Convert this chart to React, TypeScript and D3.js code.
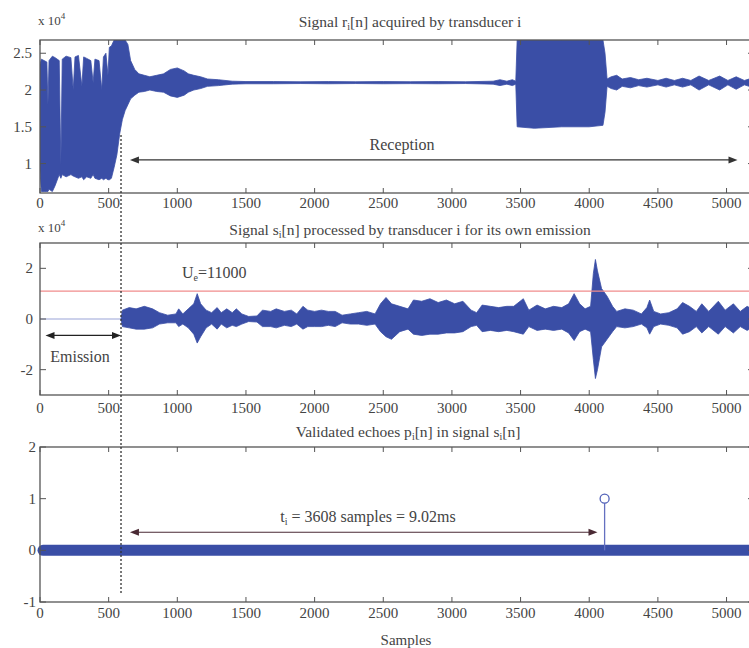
import React from 'react';
import * as d3 from 'd3';

// x axis: sample index
const xTicks = [0, 500, 1000, 1500, 2000, 2500, 3000, 3500, 4000, 4500, 5000];

// panel 1: envelope of r_i[n] (x10^4)
const rSamples = [0, 10, 30, 50, 58, 66, 90, 110, 140, 152, 162, 190, 225, 242, 255, 280, 305, 318, 340, 370, 387, 400, 430, 450, 462, 480, 495, 505, 520, 540, 560, 580, 600, 620, 640, 660, 690, 720, 760, 800, 850, 900, 950, 1000, 1050, 1080, 1120, 1170, 1220, 1300, 1400, 1500, 1700, 1900, 2100, 2300, 2500, 2700, 2900, 3100, 3300, 3350, 3400, 3440, 3465, 3475, 3600, 3800, 4000, 4100, 4115, 4130, 4160, 4200, 4240, 4300, 4360, 4420, 4500, 4560, 4620, 4680, 4740, 4800, 4870, 4950, 5010, 5070, 5130, 5200];
const rHigh = [2.35, 2.42, 2.4, 2.38, 1.8, 2.4, 2.46, 2.44, 2.4, 0.98, 2.42, 2.46, 2.44, 2.0, 2.45, 2.47, 2.05, 2.45, 2.43, 2.4, 2.1, 2.42, 2.4, 2.0, 2.45, 2.5, 2.2, 2.58, 2.6, 2.68, 2.68, 2.68, 2.68, 2.68, 2.62, 2.4, 2.28, 2.22, 2.2, 2.18, 2.2, 2.22, 2.28, 2.3, 2.26, 2.22, 2.2, 2.18, 2.15, 2.14, 2.12, 2.115, 2.115, 2.112, 2.115, 2.112, 2.115, 2.113, 2.115, 2.112, 2.12, 2.14, 2.12, 2.14, 2.12, 2.68, 2.68, 2.68, 2.68, 2.68, 2.5, 2.15, 2.18, 2.2, 2.15, 2.17, 2.14, 2.16, 2.13, 2.16, 2.13, 2.16, 2.13, 2.19, 2.13, 2.19, 2.13, 2.18, 2.13, 2.17];
const rLow = [0.9, 0.62, 0.62, 0.62, 0.62, 0.65, 0.62, 0.7, 0.85, 0.8, 0.85, 0.82, 0.85, 0.83, 0.82, 0.8, 0.82, 0.78, 0.82, 0.8, 0.85, 0.8, 0.78, 0.8, 0.78, 0.8, 0.78, 0.78, 0.8, 0.95, 1.12, 1.4, 1.6, 1.72, 1.8, 1.88, 1.93, 1.97, 1.98, 2.0, 1.98, 1.97, 1.92, 1.9, 1.93, 1.97, 2.0, 2.02, 2.05, 2.06, 2.08, 2.085, 2.085, 2.088, 2.085, 2.088, 2.085, 2.087, 2.085, 2.088, 2.08, 2.06, 2.08, 2.06, 2.08, 1.5, 1.48, 1.5, 1.5, 1.52, 1.7, 2.05, 2.02, 2.0, 2.05, 2.03, 2.06, 2.04, 2.07, 2.04, 2.07, 2.04, 2.07, 2.0, 2.07, 2.0, 2.07, 2.01, 2.07, 2.03];
const rYTicks = [1, 1.5, 2, 2.5];
const rYLabels = ['1', '1.5', '2', '2.5'];

// panel 2: envelope of s_i[n] (x10^4)
const sSamples = [590, 600, 650, 700, 760, 820, 870, 930, 990, 1010, 1040, 1080, 1120, 1145, 1170, 1210, 1250, 1290, 1320, 1360, 1400, 1430, 1470, 1520, 1580, 1620, 1680, 1720, 1780, 1830, 1870, 1915, 1950, 2000, 2050, 2100, 2150, 2200, 2260, 2320, 2380, 2440, 2480, 2520, 2560, 2620, 2680, 2720, 2780, 2840, 2900, 2960, 3020, 3080, 3140, 3180, 3220, 3280, 3340, 3400, 3450, 3520, 3560, 3620, 3680, 3740, 3800, 3850, 3890, 3930, 3970, 4010, 4030, 4045, 4060, 4090, 4130, 4170, 4200, 4260, 4320, 4380, 4420, 4440, 4470, 4520, 4580, 4640, 4680, 4730, 4780, 4820, 4870, 4940, 4990, 5050, 5100, 5150, 5200];
const sHigh = [0, 0.35, 0.45, 0.4, 0.5, 0.4, 0.25, 0.15, 0.2, 0.4, 0.2, 0.4, 0.6, 1.0, 0.6, 0.35, 0.25, 0.45, 0.25, 0.4, 0.25, 0.4, 0.2, 0.1, 0.12, 0.35, 0.3, 0.4, 0.3, 0.35, 0.2, 0.5, 0.35, 0.3, 0.35, 0.3, 0.3, 0.15, 0.2, 0.25, 0.3, 0.2, 0.6, 0.85, 0.6, 0.5, 0.4, 0.75, 0.7, 0.8, 0.65, 0.75, 0.6, 0.7, 0.35, 0.25, 0.55, 0.5, 0.45, 0.5, 0.5, 0.8, 0.35, 0.55, 0.4, 0.5, 0.45, 0.6, 1.0, 0.6, 0.4, 0.5, 1.8, 2.35, 1.9, 1.2, 0.9, 0.5, 0.3, 0.4, 0.35, 0.2, 0.45, 0.75, 0.3, 0.2, 0.25, 0.4, 0.65, 0.5, 0.3, 0.6, 0.3, 0.7, 0.35, 0.6, 0.3, 0.5, 0.35];
const sLow = [0, -0.3, -0.35, -0.4, -0.4, -0.35, -0.2, -0.15, -0.15, -0.3, -0.2, -0.35, -0.6, -0.95, -0.7, -0.35, -0.2, -0.4, -0.2, -0.35, -0.25, -0.3, -0.2, -0.1, -0.12, -0.3, -0.3, -0.35, -0.25, -0.3, -0.2, -0.4, -0.3, -0.3, -0.3, -0.25, -0.3, -0.15, -0.2, -0.2, -0.25, -0.2, -0.5, -0.7, -0.8, -0.5, -0.4, -0.6, -0.65, -0.6, -0.6, -0.55, -0.55, -0.5, -0.3, -0.25, -0.5, -0.45, -0.5, -0.45, -0.5, -0.6, -0.3, -0.45, -0.4, -0.45, -0.4, -0.55, -0.85, -0.5, -0.4, -0.5, -1.6, -2.35, -2.0, -1.1, -0.8, -0.5, -0.3, -0.35, -0.3, -0.2, -0.35, -0.6, -0.3, -0.2, -0.25, -0.35, -0.6, -0.5, -0.3, -0.55, -0.3, -0.6, -0.3, -0.55, -0.3, -0.45, -0.3];
const sYTicks = [-2, 0, 2];
const threshold = 1.1; // U_e = 11000
const emissionEnd = 590;

// panel 3: validated echo
const echoSample = 4112;
const echoValue = 1;
const pYTicks = [-1, 0, 1, 2];

// annotations (sample positions / values)
const receptionArrow = [655, 5080, 1.05];
const emissionArrow = [40, 590, -0.65];
const tofArrow = [655, 4060, 0.35];

const BLUE = '#3a4ea6';
const AXIS = '#555';
const TXT = '#444';
const FONT = '"Liberation Serif", "DejaVu Serif", serif';

const x = d3.scaleLinear().domain([0, 5200]).range([40, 754]);
const yTop = d3.scaleLinear().domain([0.6, 2.68]).range([193, 40]);
const yMid = d3.scaleLinear().domain([-3, 3]).range([395, 243]);
const yBot = d3.scaleLinear().domain([-1, 2]).range([602, 447]);

const Frame = ({ y, yTicks, yLabels, labelY, labelX }) => {
  const [b, t] = y.range();
  return (
    <g>
      <rect x={40} y={t} width={714} height={b - t} fill="none" stroke={AXIS} strokeWidth={1.3} />
      {xTicks.map(v => (
        <g key={v}>
          <line x1={x(v)} x2={x(v)} y1={b} y2={b - 5} stroke={AXIS} />
          <line x1={x(v)} x2={x(v)} y1={t} y2={t + 5} stroke={AXIS} />
          <text x={x(v)} y={labelY} textAnchor="middle" fontSize={15} fill={TXT}>{v}</text>
        </g>
      ))}
      {yTicks.map((v, i) => (
        <g key={v}>
          <line x1={40} x2={46} y1={y(v)} y2={y(v)} stroke={AXIS} />
          <line x1={754} x2={748} y1={y(v)} y2={y(v)} stroke={AXIS} />
          <text x={labelX} y={y(v) + 5} textAnchor="end" fontSize={15} fill={TXT}>{yLabels ? yLabels[i] : v}</text>
        </g>
      ))}
    </g>
  );
};

const Arrow = ({ x1, x2, y, color }) => (
  <g>
    <line x1={x1 + 6} x2={x2 - 6} y1={y} y2={y} stroke={color} strokeWidth={1.2} />
    <path d={`M${x1},${y}L${x1 + 9},${y - 3.5}L${x1 + 9},${y + 3.5}Z`} fill={color} />
    <path d={`M${x2},${y}L${x2 - 9},${y - 3.5}L${x2 - 9},${y + 3.5}Z`} fill={color} />
  </g>
);

export default function App() {
  const rArea = d3.area<number>()
    .x((d, i) => x(rSamples[i]))
    .y0((d, i) => yTop(rLow[i]))
    .y1((d, i) => yTop(rHigh[i]))(rSamples);
  const sArea = d3.area<number>()
    .x((d, i) => x(sSamples[i]))
    .y0((d, i) => yMid(sLow[i]))
    .y1((d, i) => yMid(sHigh[i]))(sSamples);

  return (
    <svg width={749} height={648} style={{ position: 'absolute', left: 0, top: 0, background: '#fff' }} fontFamily={FONT}>
      <defs>
        <clipPath id="c1"><rect x={40} y={40} width={714} height={153} /></clipPath>
        <clipPath id="c2"><rect x={40} y={243} width={714} height={152} /></clipPath>
      </defs>

      {/* panel 1 */}
      <path d={rArea} fill={BLUE} stroke={BLUE} strokeWidth={0.8} clipPath="url(#c1)" />
      <Frame y={yTop} yTicks={rYTicks} yLabels={rYLabels} labelY={208} labelX={32} />
      <text x={38} y={25} fontSize={13} fill={TXT}>x 10<tspan dy={-6} fontSize={9}>4</tspan></text>
      <text x={410} y={27} textAnchor="middle" fontSize={15.5} fill={TXT}>Signal r<tspan dy={3} fontSize={10}>i</tspan><tspan dy={-3}>[n] acquired by transducer i</tspan></text>
      <Arrow x1={x(receptionArrow[0])} x2={x(receptionArrow[1])} y={yTop(receptionArrow[2])} color="#333" />
      <text x={402} y={150} textAnchor="middle" fontSize={16} fill={TXT}>Reception</text>

      {/* panel 2 */}
      <line x1={x(0)} x2={x(emissionEnd)} y1={yMid(0)} y2={yMid(0)} stroke="#9aa3d8" strokeWidth={1.2} />
      <path d={sArea} fill={BLUE} stroke={BLUE} strokeWidth={0.8} clipPath="url(#c2)" />
      <line x1={x(0)} x2={754} y1={yMid(threshold)} y2={yMid(threshold)} stroke="#f08c8c" strokeWidth={1.2} />
      <Frame y={yMid} yTicks={sYTicks} labelY={413} labelX={33} />
      <text x={38} y={232} fontSize={13} fill={TXT}>x 10<tspan dy={-6} fontSize={9}>4</tspan></text>
      <text x={410} y={235} textAnchor="middle" fontSize={15.5} fill={TXT}>Signal s<tspan dy={3} fontSize={10}>i</tspan><tspan dy={-3}>[n] processed by transducer i for its own emission</tspan></text>
      <text x={182} y={278} fontSize={16} fill={TXT}>U<tspan dy={3} fontSize={10}>e</tspan><tspan dy={-3}>=11000</tspan></text>
      <Arrow x1={x(emissionArrow[0])} x2={x(emissionArrow[1])} y={yMid(emissionArrow[2])} color="#222" />
      <text x={80} y={362} textAnchor="middle" fontSize={16} fill={TXT}>Emission</text>

      {/* panel 3 */}
      <line x1={x(0) + 3} x2={754} y1={yBot(0)} y2={yBot(0)} stroke={BLUE} strokeWidth={11} strokeLinecap="round" />
      <line x1={x(echoSample)} x2={x(echoSample)} y1={yBot(0)} y2={yBot(echoValue)} stroke="#6470c0" strokeWidth={1.3} />
      <circle cx={x(echoSample)} cy={yBot(echoValue)} r={4.5} fill="#fff" stroke="#5060b8" strokeWidth={1.3} />
      <Frame y={yBot} yTicks={pYTicks} labelY={618} labelX={36} />
      <text x={408} y={437} textAnchor="middle" fontSize={15.5} fill={TXT}>Validated echoes p<tspan dy={3} fontSize={10}>i</tspan><tspan dy={-3}>[n] in signal s</tspan><tspan dy={3} fontSize={10}>i</tspan><tspan dy={-3}>[n]</tspan></text>
      <Arrow x1={x(tofArrow[0])} x2={x(tofArrow[1])} y={yBot(tofArrow[2])} color="#4a2a34" />
      <text x={368} y={522} textAnchor="middle" fontSize={16} fill={TXT}>t<tspan dy={3} fontSize={10}>i</tspan><tspan dy={-3}> = 3608 samples = 9.02ms</tspan></text>
      <text x={406} y={645} textAnchor="middle" fontSize={15} fill={TXT}>Samples</text>

      {/* emission end marker */}
      <line x1={x(emissionEnd)} x2={x(emissionEnd)} y1={135} y2={595} stroke="#333" strokeWidth={1.3} strokeDasharray="2,2" />
    </svg>
  );
}
